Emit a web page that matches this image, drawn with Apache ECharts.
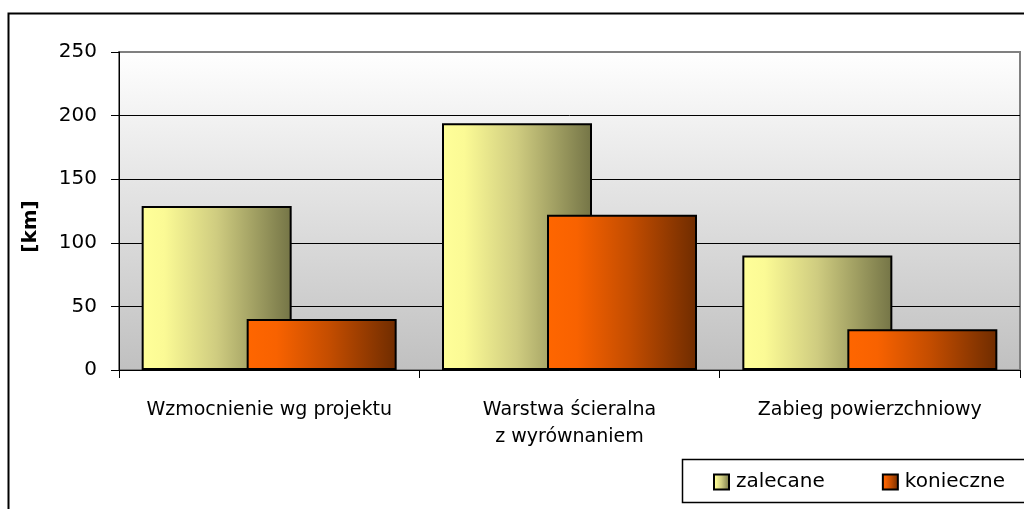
<!DOCTYPE html>
<html>
<head>
<meta charset="utf-8">
<script src="https://cdn.jsdelivr.net/npm/echarts@6/dist/echarts.min.js"></script>
<style>
  html, body { margin: 0; padding: 0; background: #fff; }
  #chart { width: 1024px; height: 509px; }
</style>
</head>
<body>
<div id="chart"></div>
<script>
// categories and values
const categories = ['Wzmocnienie wg projektu', 'Warstwa ścieralna\nz wyrównaniem', 'Zabieg powierzchniowy'];
const zalecane = [129, 194, 90];
const konieczne = [40, 122, 32];
const seriesNames = ['zalecane', 'konieczne'];
const yTicks = [0, 50, 100, 150, 200, 250];

const FONT = 'DejaVu Sans';

function hGrad(stops) {
  return new echarts.graphic.LinearGradient(0, 0, 1, 0, stops);
}
const yellowFill = hGrad([
  { offset: 0, color: '#ffff99' },
  { offset: 0.15, color: '#fbfa95' },
  { offset: 0.5, color: '#cfcc80' },
  { offset: 1, color: '#747446' }
]);
const orangeFill = hGrad([
  { offset: 0, color: '#ff6600' },
  { offset: 0.2, color: '#f86200' },
  { offset: 0.55, color: '#c44d00' },
  { offset: 1, color: '#6f2c00' }
]);

const chart = echarts.init(document.getElementById('chart'));

chart.setOption({
  animation: false,
  backgroundColor: '#ffffff',
  graphic: [
    {
      // outer chart frame
      type: 'rect',
      shape: { x: 8.5, y: 13.5, width: 1200, height: 700 },
      style: { fill: 'none', stroke: '#000', lineWidth: 2 },
      z: 0
    },
    {
      // legend box
      type: 'rect',
      shape: { x: 682.5, y: 459.5, width: 400, height: 43 },
      style: { fill: '#fff', stroke: '#000', lineWidth: 1.5 },
      z: 1
    }
  ],
  grid: {
    left: 119,
    right: 4,
    top: 52,
    bottom: 139,
    show: true,
    borderColor: '#808080',
    borderWidth: 2,
    backgroundColor: new echarts.graphic.LinearGradient(0, 0, 0, 1, [
      { offset: 0, color: '#ffffff' },
      { offset: 1, color: '#c0c0c0' }
    ])
  },
  legend: {
    data: seriesNames,
    left: 713,
    top: 472,
    padding: 0,
    itemGap: 57,
    itemWidth: 15,
    itemHeight: 15,
    icon: 'rect',
    z: 5,
    textStyle: { fontFamily: FONT, fontSize: 20, color: '#000', padding: [0, 0, 0, 2] }
  },
  xAxis: {
    type: 'category',
    data: categories,
    axisLine: { lineStyle: { color: '#000', width: 1 } },
    axisTick: { show: true, length: 8, lineStyle: { color: '#000' } },
    axisLabel: {
      fontFamily: FONT, fontSize: 19, color: '#000', margin: 27, lineHeight: 27, interval: 0
    }
  },
  yAxis: {
    type: 'value',
    min: yTicks[0],
    max: yTicks[yTicks.length - 1],
    interval: 50,
    name: '[km]',
    nameLocation: 'middle',
    nameGap: 78,
    nameTextStyle: { fontFamily: FONT, fontSize: 20, fontWeight: 'bold', color: '#000', padding: [0, 31, 0, 0] },
    axisLine: { show: true, lineStyle: { color: '#000' } },
    axisTick: { show: true, length: 8, lineStyle: { color: '#000' } },
    axisLabel: { fontFamily: FONT, fontSize: 20, color: '#000', margin: 22 },
    splitLine: { lineStyle: { color: ['#000', '#000', '#000', '#000', '#000', '#808080'], width: 1 } }
  },
  series: [
    {
      name: seriesNames[0],
      type: 'bar',
      data: zalecane,
      barWidth: 150,
      barGap: '-30%',
      itemStyle: { color: yellowFill, borderColor: '#000', borderWidth: 2 }
    },
    {
      name: seriesNames[1],
      type: 'bar',
      data: konieczne,
      barWidth: 150,
      itemStyle: { color: orangeFill, borderColor: '#000', borderWidth: 2 }
    }
  ]
});
</script>
</body>
</html>
